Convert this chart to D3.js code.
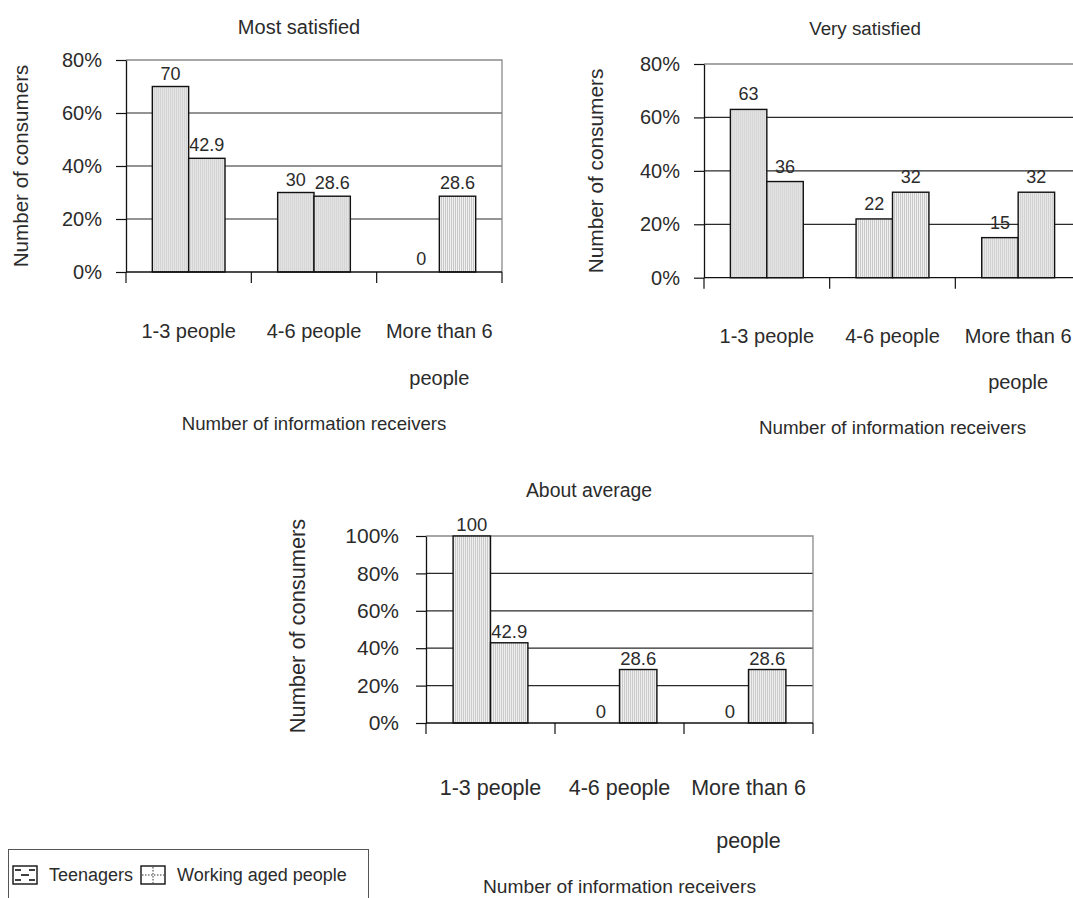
<!DOCTYPE html>
<html>
<head>
<meta charset="utf-8">
<script src="https://cdn.jsdelivr.net/npm/d3@7"></script>
<style>
  html, body { margin: 0; padding: 0; background: #fff; }
  svg { display: block; font-family: "Liberation Sans", Arial, sans-serif; }
</style>
</head>
<body>
<svg id="chart" width="1073" height="898"></svg>
<script>
// ---- data -------------------------------------------------------------
const categories = ["1-3 people", "4-6 people", "More than 6 people"];
const seriesNames = ["Teenagers", "Working aged people"];

const mostSatisfiedTeenagers = [70, 30, 0];
const mostSatisfiedWorking   = [42.9, 28.6, 28.6];
const verySatisfiedTeenagers = [63, 22, 15];
const verySatisfiedWorking   = [36, 32, 32];
const aboutAverageTeenagers  = [100, 0, 0];
const aboutAverageWorking    = [42.9, 28.6, 28.6];

const ticksTo80  = [0, 20, 40, 60, 80];
const ticksTo100 = [0, 20, 40, 60, 80, 100];

const panelTitles = ["Most satisfied", "Very satisfied", "About average"];
const yAxisTitle = "Number of consumers";
const xAxisTitle = "Number of information receivers";

// ---- drawing ----------------------------------------------------------
const svg = d3.select("#chart");
const INK = "#2b2b2b";

const defs = svg.append("defs");
// fine vertical hatching used by the bars
const stripe = defs.append("pattern")
  .attr("id", "barStripe")
  .attr("patternUnits", "userSpaceOnUse")
  .attr("width", 2).attr("height", 4);
stripe.append("rect").attr("width", 2).attr("height", 4).attr("fill", "#f3f3f3");
stripe.append("rect").attr("width", 1).attr("height", 4).attr("fill", "#c6c6c6");

function wrapLabel(textSel, maxWidth, lineGap) {
  textSel.each(function () {
    const t = d3.select(this);
    const words = t.text().split(/\s+/);
    const x = t.attr("x");
    t.text(null);
    let line = [];
    let tspan = t.append("tspan").attr("x", x).attr("dy", 0);
    words.forEach(w => {
      line.push(w);
      tspan.text(line.join(" "));
      if (tspan.node().getComputedTextLength() > maxWidth && line.length > 1) {
        line.pop();
        tspan.text(line.join(" "));
        line = [w];
        tspan = t.append("tspan").attr("x", x).attr("dy", lineGap).text(w);
      }
    });
  });
}

function drawPanel(p) {
  const g = svg.append("g");

  const y = d3.scaleLinear().domain([0, p.yMax]).range([p.bottom, p.top]);
  const x = d3.scaleBand().domain(categories)
    .range([p.left, p.right]).paddingInner(0.42).paddingOuter(0.21);
  const xs = d3.scaleBand().domain(seriesNames).range([0, x.bandwidth()]);

  // interior gridlines
  g.append("g").selectAll("line")
    .data(p.ticks.filter(t => t > 0 && t < p.yMax))
    .join("line")
    .attr("x1", p.left).attr("x2", p.right)
    .attr("y1", d => y(d)).attr("y2", d => y(d))
    .attr("stroke", "#2a2a2a").attr("stroke-width", 1.2);

  // plot frame: top and right in grey
  g.append("path")
    .attr("d", `M${p.left},${y(p.yMax)}H${p.right}V${p.bottom}`)
    .attr("fill", "none").attr("stroke", "#8a8a8a").attr("stroke-width", 1.3);

  // bars
  const rows = categories.map((c, i) => ({
    cat: c,
    vals: [{ s: seriesNames[0], v: p.teen[i] }, { s: seriesNames[1], v: p.work[i] }]
  }));
  const groups = g.append("g").selectAll("g").data(rows).join("g")
    .attr("transform", d => `translate(${x(d.cat)},0)`);

  groups.selectAll("rect").data(d => d.vals.filter(e => e.v > 0)).join("rect")
    .attr("x", d => xs(d.s))
    .attr("y", d => y(d.v))
    .attr("width", xs.bandwidth())
    .attr("height", d => p.bottom - y(d.v))
    .attr("fill", "url(#barStripe)")
    .attr("stroke", "#111").attr("stroke-width", 1.4);

  groups.selectAll("text").data(d => d.vals).join("text")
    .attr("x", d => xs(d.s) + xs.bandwidth() / 2)
    .attr("y", d => y(d.v) - p.labelGap)
    .attr("text-anchor", "middle")
    .attr("font-size", p.valueSize)
    .attr("fill", INK)
    .text(d => String(d.v));

  // y axis
  const yAxis = g.append("g")
    .attr("transform", `translate(${p.left},0)`)
    .call(d3.axisLeft(y).tickValues(p.ticks).tickSize(10).tickSizeOuter(0)
      .tickPadding(p.tickPad).tickFormat(d => d + "%"));
  yAxis.select(".domain").attr("stroke", "#111").attr("stroke-width", 1.3);
  yAxis.selectAll(".tick line").attr("stroke", "#111").attr("stroke-width", 1.2);
  yAxis.selectAll(".tick text")
    .attr("font-size", p.tickFont).attr("fill", INK)
    .attr("font-family", "Liberation Sans, Arial, sans-serif");

  // category axis line and boundary ticks
  g.append("line")
    .attr("x1", p.left).attr("x2", p.right)
    .attr("y1", p.bottom).attr("y2", p.bottom)
    .attr("stroke", "#111").attr("stroke-width", 1.3);
  g.append("g").selectAll("line")
    .data(d3.range(categories.length + 1))
    .join("line")
    .attr("x1", i => p.left + i * x.step()).attr("x2", i => p.left + i * x.step())
    .attr("y1", p.bottom).attr("y2", p.bottom + 11)
    .attr("stroke", "#111").attr("stroke-width", 1.2);

  g.append("g").selectAll("text").data(categories).join("text")
    .attr("x", d => x(d) + x.bandwidth() / 2)
    .attr("y", p.catY)
    .attr("text-anchor", "middle")
    .attr("font-size", p.catSize)
    .attr("fill", INK)
    .text(d => d)
    .call(wrapLabel, x.step() - 4, p.catLineGap);

  // titles
  g.append("text")
    .attr("x", p.titleX).attr("y", p.titleY)
    .attr("text-anchor", "middle").attr("font-size", p.titleSize).attr("fill", INK)
    .text(p.title);

  g.append("text")
    .attr("x", (p.left + p.right) / 2).attr("y", p.xTitleY)
    .attr("text-anchor", "middle").attr("font-size", p.xTitleSize).attr("fill", INK)
    .text(xAxisTitle);

  g.append("text")
    .attr("transform", `translate(${p.yTitleX},${p.yTitleY}) rotate(-90)`)
    .attr("text-anchor", "middle").attr("font-size", p.yTitleSize).attr("fill", INK)
    .text(yAxisTitle);
}

drawPanel({
  title: panelTitles[0], teen: mostSatisfiedTeenagers, work: mostSatisfiedWorking,
  ticks: ticksTo80, yMax: 80,
  left: 126, right: 502, top: 60, bottom: 272,
  titleX: 299, titleY: 34, titleSize: 20,
  tickFont: 20, tickPad: 14, valueSize: 18, labelGap: 7,
  catSize: 20, catY: 338, catLineGap: 47,
  xTitleY: 430, xTitleSize: 18.6,
  yTitleX: 28, yTitleY: 166, yTitleSize: 20.6
});

drawPanel({
  title: panelTitles[1], teen: verySatisfiedTeenagers, work: verySatisfiedWorking,
  ticks: ticksTo80, yMax: 80,
  left: 704, right: 1081, top: 64, bottom: 277.7,
  titleX: 865, titleY: 35, titleSize: 18.8,
  tickFont: 20, tickPad: 14, valueSize: 18, labelGap: 9,
  catSize: 20, catY: 343, catLineGap: 46,
  xTitleY: 434, xTitleSize: 18.8,
  yTitleX: 603, yTitleY: 171, yTitleSize: 20.8
});

drawPanel({
  title: panelTitles[2], teen: aboutAverageTeenagers, work: aboutAverageWorking,
  ticks: ticksTo100, yMax: 100,
  left: 426, right: 813, top: 536, bottom: 723,
  titleX: 589, titleY: 497, titleSize: 19.4,
  tickFont: 21, tickPad: 17, valueSize: 18.5, labelGap: 5,
  catSize: 21.5, catY: 795, catLineGap: 53,
  xTitleY: 893, xTitleSize: 19.2,
  yTitleX: 305, yTitleY: 626, yTitleSize: 21.8
});

// ---- legend -----------------------------------------------------------
const legend = svg.append("g");
legend.append("rect")
  .attr("x", 8.5).attr("y", 849.5).attr("width", 360).attr("height", 70)
  .attr("fill", "#fff").attr("stroke", "#555").attr("stroke-width", 1);

const sw = 24, sh = 18;
const teenSw = legend.append("g").attr("transform", "translate(13,866)");
teenSw.append("rect").attr("width", sw).attr("height", sh).attr("fill", "#fff")
  .attr("stroke", "#111").attr("stroke-width", 1.4);
[[2, 4, 8], [sw - 8, 4, sw - 2], [8, 9, sw - 8], [2, 14, 8], [sw - 8, 14, sw - 2]]
  .forEach(([a, yy, b]) => teenSw.append("line")
    .attr("x1", a).attr("x2", b).attr("y1", yy).attr("y2", yy)
    .attr("stroke", "#111").attr("stroke-width", 1.6));

const workSw = legend.append("g").attr("transform", "translate(141,866)");
workSw.append("rect").attr("width", sw).attr("height", sh).attr("fill", "#fff")
  .attr("stroke", "#111").attr("stroke-width", 1.4);
workSw.append("line").attr("x1", sw / 2).attr("x2", sw / 2).attr("y1", 1).attr("y2", sh - 1)
  .attr("stroke", "#333").attr("stroke-width", 1).attr("stroke-dasharray", "1.5,1.5");
workSw.append("line").attr("x1", 1).attr("x2", sw - 1).attr("y1", sh / 2).attr("y2", sh / 2)
  .attr("stroke", "#333").attr("stroke-width", 1).attr("stroke-dasharray", "1.5,1.5");

legend.append("text").attr("x", 49).attr("y", 881)
  .attr("font-size", 18).attr("fill", INK).text(seriesNames[0]);
legend.append("text").attr("x", 177).attr("y", 881)
  .attr("font-size", 18).attr("fill", INK).text(seriesNames[1]);
</script>
</body>
</html>
